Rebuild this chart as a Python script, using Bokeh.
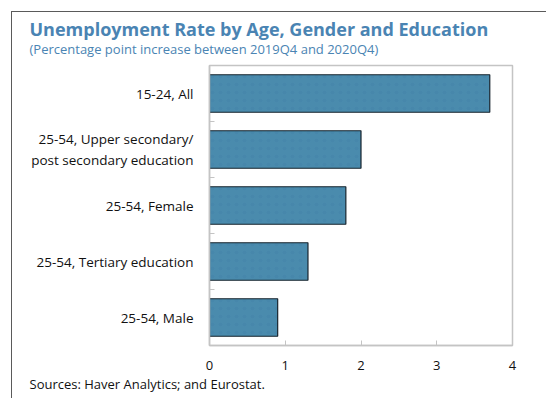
from bokeh.plotting import figure
from bokeh.models import (Title, FixedTicker, Range1d, ColumnDataSource, InlineStyleSheet)
from bokeh.embed import file_html
from bokeh.resources import INLINE

categories = ["15-24, All",
              "25-54, Upper secondary/\npost secondary education",
              "25-54, Female",
              "25-54, Tertiary education",
              "25-54, Male"]
values = [3.7, 2.0, 1.8, 1.3, 0.9]
x_ticks = [0, 1, 2, 3, 4]
title_text = "Unemployment Rate by Age, Gender and Education"
subtitle_text = "(Percentage point increase between 2019Q4 and 2020Q4)"
source_text = "Sources: Haver Analytics; and Eurostat."

n = len(categories)
ypos = [n - 1 - i for i in range(n)]
src = ColumnDataSource(dict(y=ypos, v=values))

W, H = 546, 398
FL = 209
TEXT_X = 29
BLUE = "#4a84b3"

p = figure(width=W, height=H, output_backend="svg", toolbar_location=None,
           x_range=Range1d(0, 4), y_range=Range1d(-0.5, n - 0.5),
           min_border_left=FL, min_border_right=34, min_border_top=65,
           min_border_bottom=53, title=None)
p.background_fill_color = "white"
p.border_fill_color = "white"
p.outline_line_color = "#c4c4c4"
p.outline_line_width = 1.5
p.xgrid.visible = False
p.ygrid.visible = False

p.hbar(y="y", right="v", left=0, height=0.67, source=src,
       fill_color="#4a8bad", line_color="#17242e", line_width=1.2,
       hatch_pattern="dot", hatch_color="#3d78a6", hatch_alpha=0.2,
       hatch_scale=8, hatch_weight=1)

xa = p.xaxis[0]
xa.ticker = FixedTicker(ticks=x_ticks)
xa.axis_line_color = "#c4c4c4"
xa.axis_line_width = 1.5
xa.major_tick_line_color = "#c4c4c4"
xa.major_tick_in = 5
xa.major_tick_out = 0
xa.minor_tick_line_color = None
xa.minor_tick_out = 0
xa.major_label_text_font = "Open Sans"
xa.major_label_text_font_size = "13px"
xa.major_label_text_color = "#111111"
xa.major_label_standoff = 15

ya = p.yaxis[0]
ya.ticker = FixedTicker(ticks=ypos, minor_ticks=[i + 0.5 for i in range(n - 1)])
ya.major_label_overrides = {yy: c for yy, c in zip(ypos, categories)}
ya.axis_line_color = "#c4c4c4"
ya.axis_line_width = 1.5
ya.major_tick_line_color = None
ya.major_tick_in = 0
ya.major_tick_out = 0
ya.minor_tick_line_color = "#c4c4c4"
ya.minor_tick_in = 5
ya.minor_tick_out = 0
ya.major_label_text_font = "Open Sans"
ya.major_label_text_font_size = "13.5px"
ya.major_label_text_color = "#111111"
ya.major_label_standoff = 16

p.add_layout(Title(text=subtitle_text, align="left", offset=TEXT_X - FL,
                   vertical_align="bottom",
                   text_font="Open Sans", text_font_style="normal",
                   text_font_size="13px", text_color=BLUE, standoff=16), "above")
p.add_layout(Title(text=title_text, align="left", offset=TEXT_X - FL,
                   vertical_align="bottom",
                   text_font="Open Sans", text_font_style="bold",
                   text_font_size="18px", text_color=BLUE, standoff=-23), "above")
p.add_layout(Title(text=source_text, align="left", offset=TEXT_X - FL,
                   vertical_align="bottom",
                   text_font="Open Sans", text_font_style="normal",
                   text_font_size="13px", text_color="#111111", standoff=0), "below")

p.stylesheets = [InlineStyleSheet(css="""
:host { position: relative; }
:host::after { content: ''; position: absolute; left: 11px; top: 11px;
  right: -20px; bottom: -20px; border-left: 1.5px solid #5a5a5a;
  border-top: 1.5px solid #5a5a5a; pointer-events: none; }
""")]

open("out.html", "w").write(file_html(p, INLINE))
